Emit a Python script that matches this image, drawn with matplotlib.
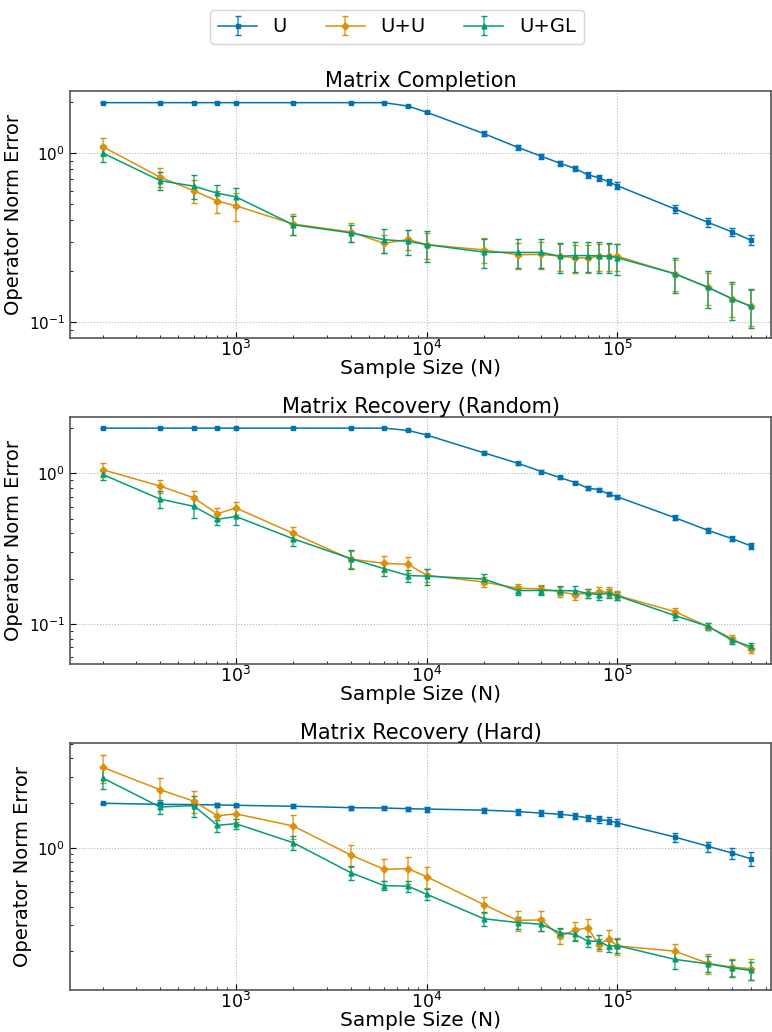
import matplotlib
matplotlib.use("Agg")
import matplotlib.pyplot as plt
import numpy as np

# ---------------- data ----------------
sample_sizes = [200, 400, 600, 800, 1000, 2000, 4000, 6000, 8000, 10000,
                20000, 30000, 40000, 50000, 60000, 70000, 80000, 90000, 100000,
                200000, 300000, 400000, 500000]

titles = ["Matrix Completion", "Matrix Recovery (Random)", "Matrix Recovery (Hard)"]
series_names = ["U", "U+U", "U+GL"]

# Matrix Completion
mc_U = [1.98, 1.98, 1.98, 1.98, 1.98, 1.98, 1.98, 1.98, 1.89, 1.74,
        1.30, 1.08, 0.956, 0.87, 0.81, 0.744, 0.714, 0.676, 0.641,
        0.468, 0.389, 0.342, 0.306]
mc_U_err = [0.01, 0.01, 0.01, 0.01, 0.01, 0.01, 0.01, 0.01, 0.015, 0.02,
            0.04, 0.035, 0.035, 0.03, 0.03, 0.03, 0.03, 0.03, 0.03,
            0.025, 0.025, 0.02, 0.02]
mc_UU = [1.09, 0.72, 0.60, 0.52, 0.488, 0.381, 0.342, 0.293, 0.309, 0.288,
         0.268, 0.251, 0.252, 0.246, 0.241, 0.240, 0.246, 0.246, 0.246,
         0.194, 0.161, 0.138, 0.125]
mc_UU_err = [0.13, 0.09, 0.09, 0.08, 0.09, 0.055, 0.045, 0.037, 0.04, 0.05,
             0.045, 0.045, 0.045, 0.045, 0.045, 0.045, 0.045, 0.045, 0.045,
             0.04, 0.035, 0.03, 0.03]
mc_UGL = [1.0, 0.687, 0.637, 0.579, 0.551, 0.377, 0.338, 0.308, 0.301, 0.288,
          0.260, 0.259, 0.259, 0.246, 0.248, 0.248, 0.247, 0.246, 0.241,
          0.194, 0.161, 0.138, 0.125]
mc_UGL_err = [0.12, 0.08, 0.10, 0.07, 0.07, 0.05, 0.04, 0.05, 0.05, 0.06,
              0.05, 0.05, 0.05, 0.05, 0.05, 0.05, 0.05, 0.05, 0.05,
              0.045, 0.04, 0.035, 0.032]

# Matrix Recovery (Random)
mr_U = [2.0, 2.0, 2.0, 2.0, 2.0, 2.0, 2.0, 2.0, 1.93, 1.80,
        1.37, 1.17, 1.03, 0.94, 0.87, 0.80, 0.78, 0.73, 0.70,
        0.509, 0.418, 0.369, 0.331]
mr_U_err = [0.01, 0.01, 0.01, 0.01, 0.01, 0.01, 0.01, 0.01, 0.01, 0.015,
            0.03, 0.03, 0.025, 0.025, 0.025, 0.025, 0.02, 0.02, 0.02,
            0.02, 0.015, 0.015, 0.015]
mr_UU = [1.06, 0.825, 0.69, 0.54, 0.59, 0.40, 0.27, 0.253, 0.249, 0.211,
         0.19, 0.173, 0.171, 0.164, 0.157, 0.160, 0.163, 0.163, 0.155,
         0.121, 0.096, 0.080, 0.0684]
mr_UU_err = [0.12, 0.08, 0.08, 0.05, 0.06, 0.04, 0.035, 0.03, 0.03, 0.02,
             0.015, 0.012, 0.012, 0.012, 0.012, 0.012, 0.012, 0.012, 0.01,
             0.007, 0.005, 0.004, 0.004]
mr_UGL = [0.985, 0.676, 0.605, 0.496, 0.518, 0.368, 0.272, 0.233, 0.21, 0.208,
          0.199, 0.167, 0.167, 0.167, 0.166, 0.16, 0.157, 0.16, 0.154,
          0.114, 0.0965, 0.078, 0.071]
mr_UGL_err = [0.08, 0.09, 0.10, 0.04, 0.06, 0.04, 0.04, 0.025, 0.02, 0.025,
              0.015, 0.012, 0.012, 0.012, 0.012, 0.012, 0.012, 0.012, 0.01,
              0.007, 0.005, 0.004, 0.004]

# Matrix Recovery (Hard)
mh_U = [1.99, 1.96, 1.95, 1.94, 1.93, 1.90, 1.86, 1.85, 1.83, 1.82,
        1.79, 1.75, 1.71, 1.68, 1.64, 1.59, 1.55, 1.52, 1.47,
        1.18, 1.02, 0.92, 0.843]
mh_U_err = [0.01, 0.06, 0.05, 0.05, 0.05, 0.06, 0.06, 0.07, 0.06, 0.07,
            0.07, 0.08, 0.08, 0.08, 0.08, 0.08, 0.08, 0.08, 0.08,
            0.08, 0.08, 0.08, 0.09]
mh_UU = [3.48, 2.46, 2.06, 1.64, 1.69, 1.40, 0.893, 0.715, 0.722, 0.638,
         0.413, 0.324, 0.326, 0.254, 0.278, 0.289, 0.222, 0.243, 0.218,
         0.201, 0.166, 0.157, 0.153]
mh_UU_err = [0.75, 0.5, 0.35, 0.25, 0.2, 0.25, 0.15, 0.12, 0.15, 0.10,
             0.05, 0.05, 0.05, 0.03, 0.04, 0.04, 0.02, 0.035, 0.03,
             0.025, 0.025, 0.02, 0.025]
mh_UGL = [2.95, 1.88, 1.92, 1.415, 1.45, 1.08, 0.679, 0.555, 0.55, 0.486,
          0.332, 0.313, 0.305, 0.267, 0.261, 0.235, 0.234, 0.217, 0.219,
          0.177, 0.165, 0.155, 0.149]
mh_UGL_err = [0.47, 0.2, 0.3, 0.13, 0.12, 0.12, 0.07, 0.04, 0.05, 0.04,
              0.035, 0.03, 0.03, 0.02, 0.025, 0.02, 0.025, 0.02, 0.025,
              0.025, 0.02, 0.02, 0.02]

panels = [
    [(mc_U, mc_U_err), (mc_UU, mc_UU_err), (mc_UGL, mc_UGL_err)],
    [(mr_U, mr_U_err), (mr_UU, mr_UU_err), (mr_UGL, mr_UGL_err)],
    [(mh_U, mh_U_err), (mh_UU, mh_UU_err), (mh_UGL, mh_UGL_err)],
]
ylims = [(0.081, 2.32), (0.0543, 2.37), (0.11, 5.07)]

# ---------------- style ----------------
colors = ["#0173B2", "#DE8F05", "#029E73"]
markers = ["s", "D", "^"]

W, H = 772, 1032
fig = plt.figure(figsize=(W / 100, H / 100), dpi=100)

left_px, right_px = 70, 771
tops = [91, 417, 743]
bottoms = [338, 664, 990]

handles = None
for i in range(3):
    ax = fig.add_axes([left_px / W, 1 - bottoms[i] / H,
                       (right_px - left_px) / W, (bottoms[i] - tops[i]) / H])
    hs = []
    for j, (vals, errs) in enumerate(panels[i]):
        h = ax.errorbar(sample_sizes, vals, yerr=errs, color=colors[j],
                        marker=markers[j], markersize=3.5, linewidth=1.1,
                        elinewidth=1.2, capsize=2, capthick=1.0,
                        label=series_names[j])
        for bar in h[2]:
            bar.set_alpha(0.75)
        hs.append(h)
    if handles is None:
        handles = hs
    ax.set_xscale("log")
    ax.set_yscale("log")
    ax.set_xlim(135, 640000)
    ax.set_ylim(*ylims[i])
    ax.set_title(titles[i], fontsize=15, pad=3)
    ax.set_xlabel("Sample Size (N)", fontsize=14.5, labelpad=-1)
    ax.set_ylabel("Operator Norm Error", fontsize=14)
    ax.grid(True, which="major", linestyle=":", color="#b8b8b8", linewidth=0.8)
    ax.tick_params(axis="x", which="major", labelsize=12.5, direction="in",
                   length=4, pad=1.5)
    ax.tick_params(axis="y", which="major", labelsize=11, direction="in", length=4)
    ax.tick_params(which="minor", direction="in", length=2)
    for sp in ax.spines.values():
        sp.set_color("#555555")
        sp.set_linewidth(1.2)

fig.legend(handles=handles, labels=series_names, loc="center",
           bbox_to_anchor=(397 / W, 1 - 27 / H), ncol=3, fontsize=14,
           frameon=True, handlelength=2.0, columnspacing=2.0)

fig.savefig("out.png", dpi=100)
